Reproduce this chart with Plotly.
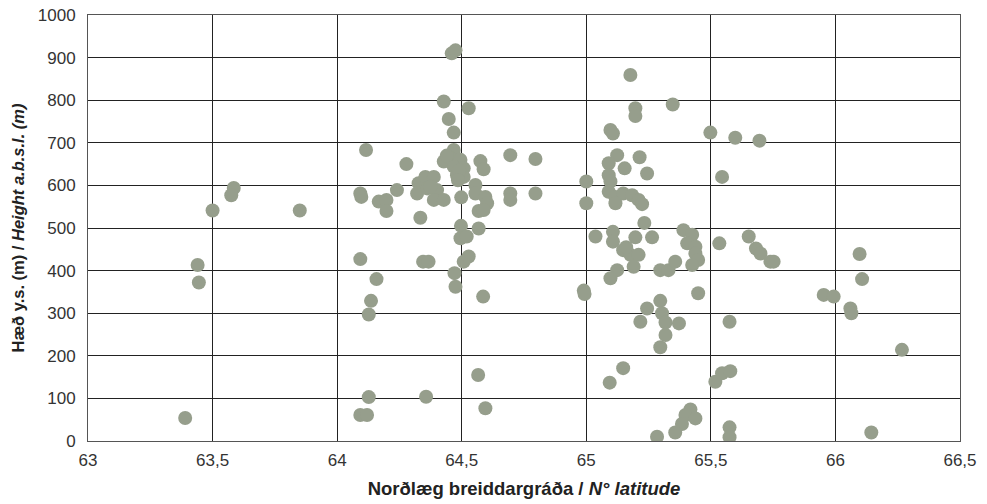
import plotly.graph_objects as go

latitude = [
    63.39, 63.44, 63.445, 63.5, 63.585, 63.575, 63.85,
    64.116, 64.093, 64.097, 64.167, 64.198, 64.198, 64.24, 64.093, 64.158, 64.136, 64.127, 64.127, 64.093, 64.12,
    64.278, 64.327, 64.354, 64.388, 64.321, 64.361, 64.401, 64.388, 64.428, 64.374, 64.334, 64.345, 64.367, 64.357,
    64.428, 64.528, 64.448, 64.468, 64.46, 64.475, 64.468, 64.428, 64.455, 64.495, 64.468, 64.508, 64.481, 64.508,
    64.44, 64.49, 64.485, 64.498, 64.497, 64.495, 64.52, 64.508, 64.528, 64.471, 64.475,
    64.575, 64.588, 64.555, 64.555, 64.595, 64.602, 64.568, 64.588, 64.568, 64.586, 64.566, 64.595,
    64.695, 64.796, 64.695, 64.695, 64.796,
    65.0, 65.0, 64.99, 64.993, 65.037, 65.124, 65.214, 65.09, 65.154, 65.244, 65.09, 65.097, 65.09, 65.117,
    65.148, 65.184, 65.21, 65.117, 65.224, 65.233, 65.107, 65.107, 65.197, 65.264, 65.148, 65.177, 65.21,
    65.16, 65.19, 65.124, 65.097, 65.177, 65.197, 65.197, 65.097, 65.107, 65.148, 65.094, 65.217, 65.244,
    65.297, 65.33, 65.357, 65.297, 65.304, 65.318, 65.372, 65.318, 65.297, 65.284,
    65.347, 65.498, 65.598, 65.695, 65.545, 65.39, 65.425, 65.405, 65.438, 65.438, 65.449, 65.425, 65.534,
    65.652, 65.681, 65.699, 65.739, 65.752, 65.449, 65.575, 65.518, 65.545, 65.578, 65.418, 65.398, 65.438,
    65.384, 65.357, 65.575, 65.575,
    65.953, 65.993, 66.097, 66.107, 66.06, 66.064, 66.267, 66.144,
]

height_m = [
    54, 413, 372, 541, 594, 577, 541,
    683, 581, 573, 562, 566, 540, 589, 427, 380, 329, 297, 103, 61, 61,
    650, 605, 620, 620, 581, 593, 589, 566, 566, 597, 524, 421, 421, 104,
    797, 781, 756, 724, 910, 917, 683, 656, 664, 660, 644, 640, 624, 620,
    670, 635, 612, 572, 505, 476, 480, 421, 433, 394, 362,
    657, 638, 601, 581, 573, 558, 540, 542, 499, 339, 155, 77,
    671, 662, 581, 566, 581,
    609, 558, 353, 345, 480, 671, 666, 652, 640, 628, 624, 609, 585, 573,
    581, 577, 566, 558, 556, 512, 491, 468, 478, 478, 448, 437, 437,
    455, 409, 401, 382, 859, 781, 763, 730, 722, 171, 137, 280, 311,
    401, 401, 421, 329, 300, 278, 276, 249, 220, 10,
    790, 724, 712, 705, 620, 495, 484, 464, 456, 440, 425, 413, 464,
    480, 452, 440, 421, 421, 347, 280, 139, 159, 164, 74, 61, 53,
    40, 20, 32, 9,
    343, 339, 439, 380, 311, 300, 214, 20,
]

x_tick_values = [63, 63.5, 64, 64.5, 65, 65.5, 66, 66.5]
x_tick_labels = ["63", "63,5", "64", "64,5", "65", "65,5", "66", "66,5"]
y_tick_values = [0, 100, 200, 300, 400, 500, 600, 700, 800, 900, 1000]

FONT = "Liberation Sans, Arial, sans-serif"

fig = go.Figure()
fig.add_trace(go.Scatter(
    x=latitude, y=height_m, mode="markers",
    marker=dict(size=14, color="#969e8c", line=dict(width=0)),
    showlegend=False, hoverinfo="x+y",
))

fig.update_layout(
    width=987, height=504,
    margin=dict(l=88, r=27, t=15, b=63, autoexpand=False),
    paper_bgcolor="white", plot_bgcolor="white",
    font=dict(family=FONT, size=17, color="#333333"),
    xaxis=dict(
        range=[63, 66.5], tickvals=x_tick_values, ticktext=x_tick_labels,
        showgrid=True, gridcolor="#222222", gridwidth=1,
        showline=True, linecolor="#555555", linewidth=1, mirror=True,
        zeroline=False, ticks="", ticklabelstandoff=4, automargin=False,
        title=dict(text="Norðlæg breiddargráða / <i>N° latitude</i>",
                   font=dict(family=FONT, size=18.5, color="#222222", weight="bold"), standoff=12),
    ),
    yaxis=dict(
        range=[0, 1000], tickvals=y_tick_values,
        showgrid=True, gridcolor="#222222", gridwidth=1,
        showline=True, linecolor="#555555", linewidth=1, mirror=True,
        zeroline=False, ticks="", ticklabelstandoff=8, automargin=False,
        title=dict(text="Hæð y.s. (m) / <i>Height a.b.s.l. (m)</i>",
                   font=dict(family=FONT, size=16.5, color="#222222", weight="bold"), standoff=8),
    ),
)

fig.write_html("out.html", config={"displayModeBar": False},
               post_script="document.body.style.margin='0';document.body.style.overflow='hidden';")
